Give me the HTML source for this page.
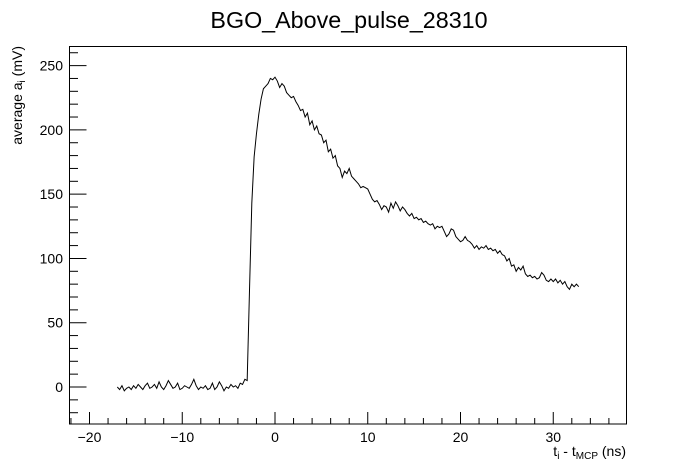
<!DOCTYPE html>
<html><head><meta charset="utf-8"><style>
html,body{margin:0;padding:0;background:#fff;}
svg{display:block;font-family:"Liberation Sans",sans-serif;}
</style></head><body>
<svg id="chart" width="696" height="472">
<rect x="0" y="0" width="696" height="472" fill="#fff"/>
<text x="349" y="28" font-size="23.3" text-anchor="middle" fill="#000">BGO_Above_pulse_28310</text>
<rect x="69.5" y="46.5" width="557" height="377.5" fill="none" stroke="#000" stroke-width="1"/>
<g id="xticks"></g>
<g id="yticks"></g>
<path id="trace" fill="none" stroke="#000" stroke-width="1"/>
<text x="626" y="456" font-size="14" text-anchor="end">t<tspan font-size="10" dy="3">i</tspan><tspan dy="-3"> - t</tspan><tspan font-size="10" dy="3">MCP</tspan><tspan dy="-3"> (ns)</tspan></text>
<text transform="translate(22,46) rotate(-90)" font-size="14" text-anchor="end">average a<tspan font-size="10" dy="3">i</tspan><tspan dy="-3">  (mV)</tspan></text>
</svg>
<script>
const t0 = -17;
const dt = 0.25;
const values = [
0,-2,1,-3,-1,0,-2,1,
-1,2,0,-2,1,3,-1,0,
2,-1,4,0,-2,1,5,2,
-1,0,3,-2,-1,1,0,-1,
2,6,1,-2,0,-1,1,-2,
-1,3,-2,0,4,1,-3,0,
-1,2,0,1,-1,3,2,6,
5,75,143,179,197,212,224,232,
234,236,240,239,241,238,233,236,
234,229,227,225,226,222,219,215,
216,210,213,204,207,200,203,197,
196,190,192,183,185,178,180,172,
170,163,168,166,170,164,162,160,
158,155,156,155,154,150,146,144,
145,142,138,141,140,136,143,139,
144,141,137,140,138,135,133,135,
131,132,130,131,128,129,127,126,
127,123,125,124,125,121,117,119,
123,122,117,115,113,114,117,114,
113,111,108,110,107,109,108,110,
107,108,106,107,104,106,103,102,
98,100,94,95,90,93,91,94,
88,86,87,85,86,84,85,89,
87,83,82,84,82,84,81,83,
80,82,78,76,80,78,80,78
];
const xTickLabels = [-20,-10,0,10,20,30];
const yTickLabels = [0,50,100,150,200,250];

const NS = "http://www.w3.org/2000/svg";
function xs(v){ return 275 + v*9.275; }
function ys(v){ return 387 - v*1.2856; }

let d = "";
values.forEach((v,i)=>{ const t = t0 + i*dt; d += (i?"L":"M") + xs(t).toFixed(2) + "," + ys(v).toFixed(2); });
document.getElementById("trace").setAttribute("d", d);

const xg = document.getElementById("xticks");
for (let v = -22; v <= 37; v += 2) {
  const major = (v % 10 === 0);
  const ln = document.createElementNS(NS,"line");
  ln.setAttribute("x1", xs(v)); ln.setAttribute("x2", xs(v));
  ln.setAttribute("y1", 424); ln.setAttribute("y2", major ? 412 : 418);
  ln.setAttribute("stroke","#000");
  
  
  xg.appendChild(ln);
}
xTickLabels.forEach(v=>{
  const tx = document.createElementNS(NS,"text");
  tx.setAttribute("x", xs(v)); tx.setAttribute("y", 442);
  tx.setAttribute("font-size","14"); tx.setAttribute("text-anchor","middle");
  tx.textContent = v < 0 ? "\u2212" + Math.abs(v) : String(v);
  
  
  xg.appendChild(tx);
});
const yg = document.getElementById("yticks");
for (let v = -20; v <= 260; v += 10) {
  const major = (v % 50 === 0);
  const ln = document.createElementNS(NS,"line");
  ln.setAttribute("x1", 69.5); ln.setAttribute("x2", major ? 86.5 : 78);
  ln.setAttribute("y1", ys(v)); ln.setAttribute("y2", ys(v));
  ln.setAttribute("stroke","#000");
  
  
  yg.appendChild(ln);
}
yTickLabels.forEach(v=>{
  const tx = document.createElementNS(NS,"text");
  tx.setAttribute("x", 63); tx.setAttribute("y", ys(v)+5);
  tx.setAttribute("font-size","14"); tx.setAttribute("text-anchor","end");
  tx.textContent = String(v);
  
  
  yg.appendChild(tx);
});
</script>
</body></html>
